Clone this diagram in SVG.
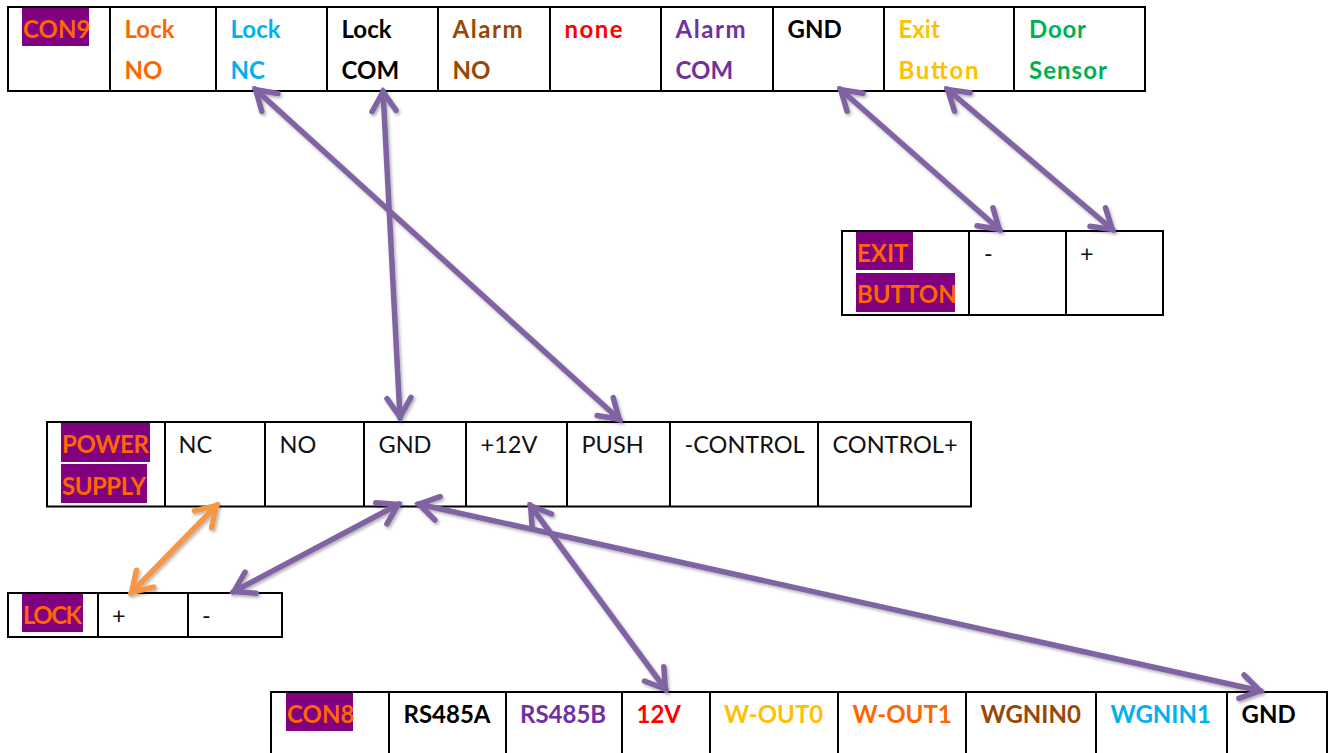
<svg xmlns="http://www.w3.org/2000/svg" width="1335" height="753" viewBox="0 0 1335 753">
<style>
text{font-family:Lato,Carlito,"Liberation Sans",sans-serif;font-size:23.5px;fill:#111}
.b{font-weight:700;font-size:24px}
.h{font-weight:700;font-size:24px;fill:#ff6600}
.bg{fill:#800080}
.cell{fill:#fff;stroke:#000;stroke-width:2}
.conn{fill:none;stroke-width:5.5;stroke-linecap:round}
.p{stroke:#8064a2;marker-start:url(#mp);marker-end:url(#mp)}
.o{stroke:#f79646;marker-start:url(#mo);marker-end:url(#mo)}
</style>
<defs>
<marker id="mp" markerUnits="userSpaceOnUse" markerWidth="36" markerHeight="36" refX="28" refY="18" orient="auto-start-reverse"><path d="M8 6L27 18L8 30" fill="none" stroke="#8064a2" stroke-width="5.5" stroke-linecap="round" stroke-linejoin="miter"/></marker>
<marker id="mo" markerUnits="userSpaceOnUse" markerWidth="36" markerHeight="36" refX="28" refY="18" orient="auto-start-reverse"><path d="M8 6L27 18L8 30" fill="none" stroke="#f79646" stroke-width="5.5" stroke-linecap="round" stroke-linejoin="miter"/></marker>
<filter id="sh" x="-20%" y="-20%" width="140%" height="140%"><feDropShadow dx="1.5" dy="2" stdDeviation="1.5" flood-color="#000" flood-opacity="0.3"/></filter>
</defs>
<g id="con9">
<rect class="cell" x="8" y="7" width="1137" height="84"/>
<path class="cell" d="M110 7V91M216 7V91M327 7V91M438 7V91M550 7V91M661 7V91M773 7V91M884 7V91M1014 7V91"/>
<rect class="bg" x="22" y="8" width="67" height="38"/>
<text class="h" x="23" y="38">CON9</text>
<text class="b" x="124.500" y="38" style="fill:#ff6600">Lock</text><text class="b" x="124.500" y="79" style="fill:#ff6600">NO</text>
<text class="b" x="230.500" y="38" style="fill:#00b0f0">Lock</text><text class="b" x="230.500" y="79" style="fill:#00b0f0">NC</text>
<text class="b" x="341.500" y="38" style="fill:#000">Lock</text><text class="b" x="341.500" y="79" style="fill:#000">COM</text>
<text class="b" x="452.500" y="38" textLength="70" style="fill:#974706">Alarm</text><text class="b" x="452.500" y="79" style="fill:#974706">NO</text>
<text class="b" x="564.500" y="38" textLength="58" style="fill:#ff0000">none</text>
<text class="b" x="675.500" y="38" textLength="70" style="fill:#7030a0">Alarm</text><text class="b" x="675.500" y="79" style="fill:#7030a0">COM</text>
<text class="b" x="787.500" y="38" style="fill:#000">GND</text>
<text class="b" x="898.500" y="38" style="fill:#ffc000">Exit</text><text class="b" x="898.500" y="79" textLength="80" style="fill:#ffc000">Button</text>
<text class="b" x="1029" y="38" textLength="57" style="fill:#00b050">Door</text><text class="b" x="1029" y="79" textLength="78" style="fill:#00b050">Sensor</text>
</g>
<g id="exit-button">
<rect class="cell" x="842" y="231" width="321" height="84"/>
<path class="cell" d="M969 231V315M1066 231V315"/>
<rect class="bg" x="856" y="232" width="57" height="38"/>
<rect class="bg" x="856" y="273" width="99" height="39"/>
<text class="h" x="857" y="262">EXIT</text>
<text class="h" x="857" y="303">BUTTON</text>
<text x="984" y="262">-</text>
<text x="1080" y="262">+</text>
</g>
<g id="power-supply">
<rect class="cell" x="47" y="422" width="924" height="84.500"/>
<path class="cell" d="M165 422V506M265 422V506M364 422V506M466 422V506M567 422V506M670 422V506M818 422V506"/>
<rect class="bg" x="61" y="423" width="89" height="39"/>
<rect class="bg" x="61" y="464" width="86" height="39"/>
<text class="h" x="62" y="453" textLength="87">POWER</text>
<text class="h" x="62" y="495" textLength="84">SUPPLY</text>
<text x="178.500" y="453">NC</text>
<text x="279.500" y="453">NO</text>
<text x="378.500" y="453">GND</text>
<text x="480.500" y="453">+12V</text>
<text x="581.500" y="453">PUSH</text>
<text x="684.500" y="453">-CONTROL</text>
<text x="832.500" y="453">CONTROL+</text>
</g>
<g id="lock">
<rect class="cell" x="8" y="593" width="274" height="44"/>
<path class="cell" d="M98 593V637M188 593V637"/>
<rect class="bg" x="22" y="594" width="61" height="38"/>
<text class="h" x="23" y="624" textLength="59">LOCK</text>
<text x="112" y="624">+</text>
<text x="202" y="624">-</text>
</g>
<g id="con8">
<path class="cell" d="M271 760V692H1327V760M389 692V760M506 692V760M622 692V760M710 692V760M838 692V760M966 692V760M1096 692V760M1227 692V760"/>
<rect class="bg" x="286" y="693" width="67" height="38"/>
<text class="h" x="287" y="723">CON8</text>
<text class="b" x="403.500" y="723" style="fill:#000">RS485A</text>
<text class="b" x="520" y="723" style="fill:#7030a0">RS485B</text>
<text class="b" x="636.500" y="723" style="fill:#ff0000">12V</text>
<text class="b" x="724" y="723" style="fill:#ffc000">W-OUT0</text>
<text class="b" x="852.500" y="723" style="fill:#ff6600">W-OUT1</text>
<text class="b" x="980.500" y="723" style="fill:#974706">WGNIN0</text>
<text class="b" x="1110.500" y="723" style="fill:#00b0f0">WGNIN1</text>
<text class="b" x="1241.500" y="723" style="fill:#000">GND</text>
</g>
<g id="connectors" filter="url(#sh)">
<line class="conn p" x1="255" y1="89" x2="620" y2="420"/>
<line class="conn p" x1="383" y1="91" x2="400" y2="418"/>
<line class="conn p" x1="840" y1="89" x2="1000" y2="230"/>
<line class="conn p" x1="947" y1="89" x2="1113" y2="230"/>
<line class="conn o" x1="217" y1="505" x2="131" y2="593"/>
<line class="conn p" x1="399" y1="504" x2="233" y2="592"/>
<line class="conn p" x1="418" y1="504" x2="1261" y2="691"/>
<line class="conn p" x1="530" y1="505" x2="666" y2="690"/>
</g>
</svg>
